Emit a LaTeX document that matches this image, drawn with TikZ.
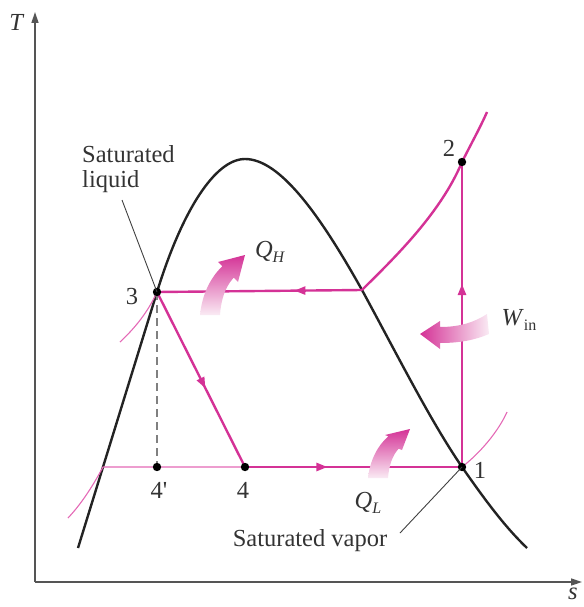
\documentclass[tikz,border=0pt]{standalone}
\usepackage{fontspec}
\setmainfont{Liberation Serif}
\usetikzlibrary{arrows.meta,decorations.markings}
\definecolor{mag}{RGB}{212,50,150}
\definecolor{magthin}{RGB}{228,105,182}
\definecolor{magpale}{RGB}{250,235,244}
\definecolor{domec}{RGB}{35,35,35}
\definecolor{axisc}{RGB}{85,85,85}
\newcommand{\lsub}[1]{\raisebox{-0.45ex}{\fontsize{16}{16}\selectfont #1}}
\begin{document}
\begin{tikzpicture}[x=1pt,y=-1pt,
  lbl/.style={font=\fontsize{24.5}{27}\selectfont, inner sep=0pt, text=black!80},
  cyc/.style={draw=mag, line width=2.4pt},
  iso/.style={draw=magthin, line width=1.1pt},
  leader/.style={draw=black!75, line width=0.9pt},
  midarrow/.style={postaction={decorate},
    decoration={markings, mark=at position #1 with {\arrow[mag]{Triangle[length=11pt,width=8pt]}}}},
  dot/.style={fill=black}]
\useasboundingbox (0,0) rectangle (583,607);

% axes
\coordinate (o) at (35,582);
\coordinate (ytop) at (35,12);
\coordinate (xend) at (582,582);
\draw[axisc, line width=1.5pt, -{Triangle[length=11pt,width=7pt]}] (o) -- (ytop);
\draw[axisc, line width=1.5pt, -{Triangle[length=11pt,width=7pt]}] (o) -- (xend);
\node[lbl] (tlab) at (17,22) {\textit{T}};
\node[lbl] (slab) at (573,594) {\textit{s}};

% state points
\coordinate (p1) at (462,467);
\coordinate (p2) at (462,162);
\coordinate (p3) at (157,292);
\coordinate (p4) at (245,467);
\coordinate (p4p) at (157,467);
\coordinate (pg) at (362,290);
\coordinate (pf) at (103,467);

% saturation dome
\draw[domec, line width=2.4pt] (78,548) -- (p3)
  .. controls (182,211) and (215,159) .. (245,159)
  .. controls (280,159) and (320,215) .. (pg)
  .. controls (400,360) and (430,420) .. (p1)
  .. controls (485,500) and (505,527) .. (527,548);

% thin isobars
\draw[iso] (68,518) .. controls (85,500) and (97,478) .. (pf) -- (p4);
\draw[iso] (p1) .. controls (480,453) and (498,432) .. (507,412);
\draw[iso] (120,342) .. controls (135,328) and (148,312) .. (p3);

% dashed
\draw[black!50, line width=1.3pt, dash pattern=on 8pt off 5pt] (p3) -- (p4p);

% cycle
\draw[cyc, midarrow=0.38] (p4) -- (p1);
\draw[cyc, midarrow=0.6] (p1) -- (p2);
\draw[cyc] (pg) .. controls (390,262) and (440,215) .. (p2)
  .. controls (472,142) and (480,128) .. (487,112);
\draw[cyc, midarrow=0.33] (pg) -- (p3);
\draw[cyc, midarrow=0.55] (p3) -- (p4);

% dots
\foreach \p in {p1,p2,p3,p4,p4p} \fill[dot] (\p) circle (4.2);

% fat arrows
\shade[top color=mag, bottom color=magpale]
  (200,315) .. controls (202,295) and (210,278) .. (222.3,266.3) -- (218,262) -- (245,255)
  -- (238,282) -- (233.7,277.7) .. controls (225,287) and (221,300) .. (220,315) -- cycle;
\shade[top color=mag, bottom color=magpale]
  (368,478) .. controls (370,460) and (378,445) .. (388.4,436.3) -- (385,435) -- (410,429)
  -- (402,450) -- (398.6,448.7) .. controls (392,456) and (389,466) .. (388,478) -- cycle;
\shade[left color=mag, right color=magpale]
  (440,327) .. controls (460,327) and (475,322) .. (487,314) -- (489,334)
  .. controls (475,340) and (460,343) .. (440,343) -- (440,349) -- (420,334) -- (440,321) -- cycle;

% labels
\node[lbl] (l1) at (480,470) {1};
\node[lbl] (l2) at (449,148) {2};
\node[lbl] (l3) at (132,297) {3};
\node[lbl] (l4) at (243,490) {4};
\node[lbl] (l4p) at (159,490) {4\textquotesingle};
\node[lbl] (qh) at (270,252) {\textit{Q}\lsub{\textit{H}}};
\node[lbl] (ql) at (368,503) {\textit{Q}\lsub{\textit{L}}};
\node[lbl] (win) at (519,320) {\textit{W}\lsub{in}};
\node[lbl, align=left, anchor=north west, font=\fontsize{24.5}{25.5}\selectfont] (satl) at (82,145) {Saturated\\liquid};
\node[lbl] (satv) at (310,541) {Saturated vapor};
\coordinate (ll) at (122,200);
\coordinate (lv) at (400,533);
\draw[leader] (ll) -- (p3);
\draw[leader] (lv) -- (p1);
\end{tikzpicture}
\end{document}
